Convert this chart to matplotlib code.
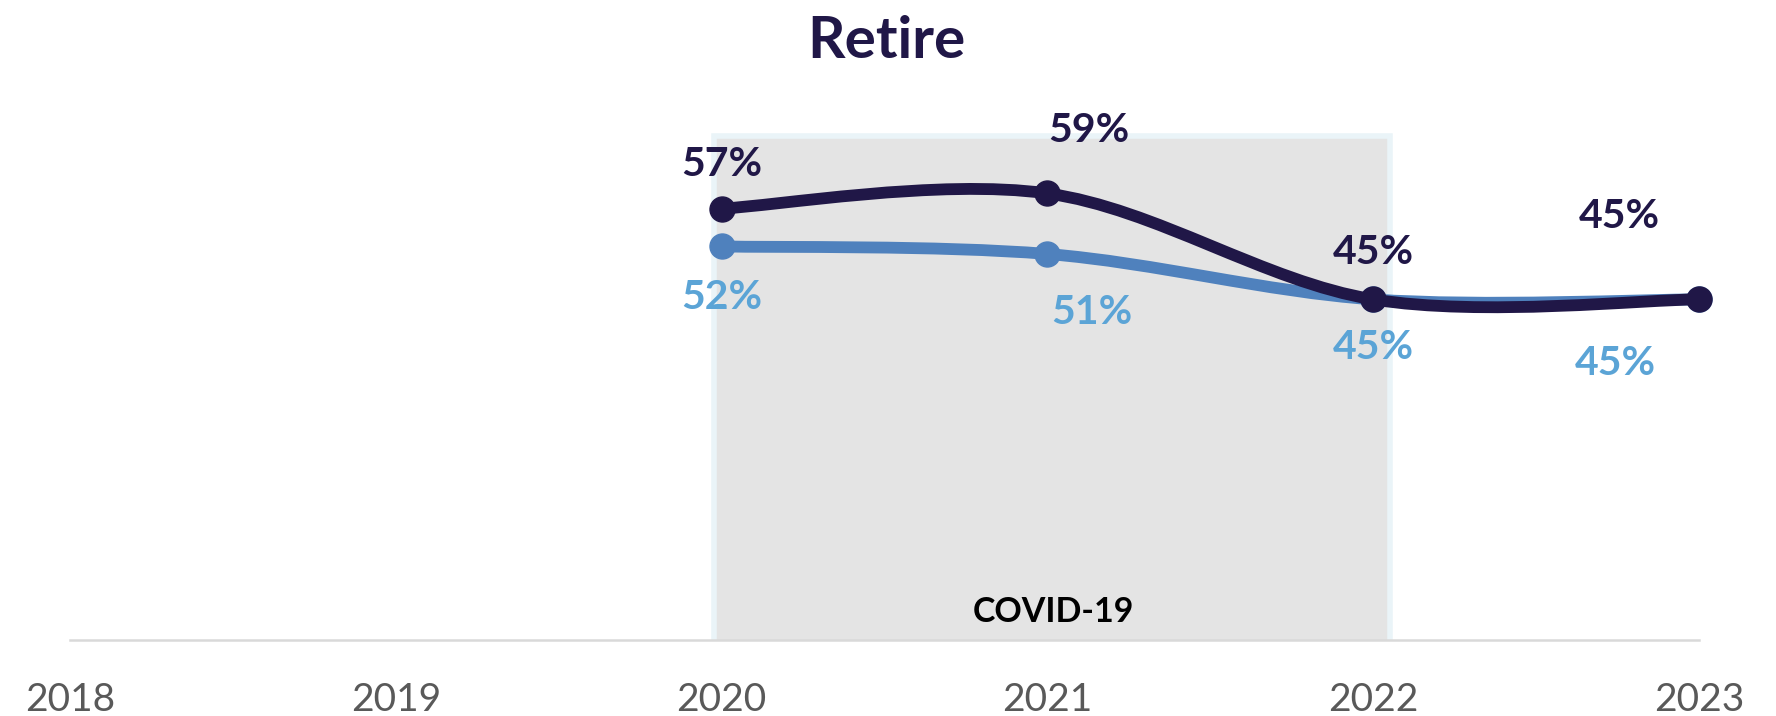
import matplotlib
matplotlib.use("Agg")
import matplotlib.pyplot as plt
from matplotlib.path import Path
from matplotlib.patches import PathPatch, Rectangle

# ---- data ----
years_axis = [2018, 2019, 2020, 2021, 2022, 2023]
tick_labels = ["2018", "2019", "2020", "2021", "2022", "2023"]
years = [2020, 2021, 2022, 2023]
dark_values = [57, 59, 45, 45]
light_values = [52, 51, 45, 45]
dark_labels = ["57%", "59%", "45%", "45%"]
light_labels = ["52%", "51%", "45%", "45%"]
title = "Retire"
shade_label = "COVID-19"
shade_span = (2020, 2022)

DARK = "#201747"
LIGHT_LINE = "#4F81BD"
LIGHT_TXT = "#5BA4D6"

plt.rcParams['font.family'] = ['Lato', 'DejaVu Sans']

fig = plt.figure(figsize=(17.76, 7.16), dpi=100)
ax = fig.add_axes([70/1776, 76/716, (1699-70)/1776, 0.740])
ax.set_xlim(years_axis[0], years_axis[-1])
ax.set_ylim(0, 70)

# shaded COVID box
ax.add_patch(Rectangle((shade_span[0] - 0.023, -0.4), (shade_span[1] - shade_span[0]) + 0.075, 67.0,
                       facecolor="#E4E4E4", edgecolor="#EAF4F8", linewidth=4, zorder=1))
ax.text(sum(shade_span) / 2 + 0.02, 3.7, shade_label, ha="center", va="center",
        fontsize=24.5, fontweight="bold", color="black", zorder=2)


def smooth_path(xs, ys):
    verts = [(xs[0], ys[0])]
    codes = [Path.MOVETO]
    n = len(xs)
    for i in range(n - 1):
        p0 = (xs[max(i - 1, 0)], ys[max(i - 1, 0)])
        p1 = (xs[i], ys[i])
        p2 = (xs[i + 1], ys[i + 1])
        p3 = (xs[min(i + 2, n - 1)], ys[min(i + 2, n - 1)])
        c1 = (p1[0] + (p2[0] - p0[0]) / 6, p1[1] + (p2[1] - p0[1]) / 6)
        c2 = (p2[0] - (p3[0] - p1[0]) / 6, p2[1] - (p3[1] - p1[1]) / 6)
        verts += [c1, c2, p2]
        codes += [Path.CURVE4] * 3
    return Path(verts, codes)


for vals, col, z in [(light_values, LIGHT_LINE, 3), (dark_values, DARK, 5)]:
    ax.add_patch(PathPatch(smooth_path(years, vals), facecolor="none", edgecolor=col,
                           linewidth=8.5, capstyle="round", joinstyle="round", zorder=z))
    ax.plot(years, vals, "o", color=col, markersize=18, zorder=z + 1, clip_on=False)

# labels (offsets in points)
dark_off = [(0, 32), (30, 45), (0, 34), (-57, 60)]
light_off = [(0, -37), (32, -42), (0, -35), (-60, -46)]
for x, v, t, (dx, dy) in zip(years, dark_values, dark_labels, dark_off):
    ax.annotate(t, (x, v), xytext=(dx, dy), textcoords="offset points", ha="center", va="center",
                fontsize=29.5, fontweight="bold", color=DARK, zorder=8)
for x, v, t, (dx, dy) in zip(years, light_values, light_labels, light_off):
    ax.annotate(t, (x, v), xytext=(dx, dy), textcoords="offset points", ha="center", va="center",
                fontsize=29.5, fontweight="bold", color=LIGHT_TXT, zorder=8)

ax.set_xticks(years_axis)
ax.set_xticklabels(tick_labels)
ax.tick_params(axis="x", length=0, pad=30, labelsize=28, labelcolor="#595959")
ax.set_yticks([])
for s in ["top", "right", "left"]:
    ax.spines[s].set_visible(False)
ax.spines["bottom"].set_color("#D9D9D9")
ax.spines["bottom"].set_linewidth(1.8)
ax.spines["bottom"].set_zorder(2)
ax.patch.set_alpha(0)

fig.text(886/1776, 1 - 42/716, title, ha="center", va="center", fontsize=42,
         fontweight="bold", color=DARK)

fig.savefig("out.png", dpi=100, facecolor="white")
